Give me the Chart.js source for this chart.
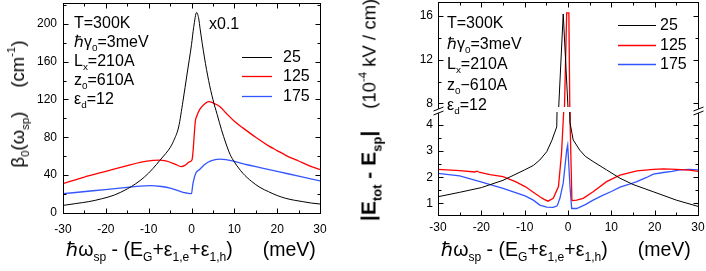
<!DOCTYPE html>
<html lang="en">
<head>
<meta charset="UTF-8">
<title>beta0 and |Etot - Esp|</title>
<script src="https://cdnjs.cloudflare.com/ajax/libs/Chart.js/4.4.1/chart.umd.min.js"></script>
<style>
  html, body { margin: 0; padding: 0; background: #fff; }
  #wrap { position: relative; width: 706px; height: 271px; overflow: hidden;
          font-family: 'Liberation Sans', Arial, sans-serif; color: #000; }
  canvas { position: absolute; top: 0; }
  .t { position: absolute; white-space: nowrap; font-size: 16px; line-height: 19px; }
  .ttl { position: absolute; white-space: nowrap; font-size: 19.5px; line-height: 20px; }
  .rot { transform: translate(-50%, -50%) rotate(-90deg); font-size: 18.5px; }
  .hc { transform: translateX(-50%); }
  sub { font-size: 0.62em; vertical-align: -0.45em; line-height: 0; }
  sup { font-size: 0.62em; vertical-align: 0.75em; line-height: 0; }
</style>
</head>
<body>
<div id="wrap">
  <canvas id="beta-chart" width="353" height="271" style="left:0"></canvas>
  <canvas id="field-chart" width="353" height="271" style="left:353px"></canvas>

  <div class="t" style="left:74px;top:13px">T=300K<br>ℏγ<sub>0</sub>=3meV<br>L<sub>x</sub>=210A<br>z<sub>0</sub>=610A<br>ε<sub>d</sub>=12</div>
  <div class="t" style="left:209px;top:14px">x0.1</div>
  <div class="ttl rot" style="left:18px;top:104px">β<sub>0</sub>(ω<sub>sp</sub>)<span style="margin-left:24px">(cm<sup>-1</sup>)</span></div>
  <div class="ttl hc" style="left:191px;top:239px">ℏω<sub>sp</sub> - (E<sub>G</sub>+ε<sub>1,e</sub>+ε<sub>1,h</sub>)<span style="margin-left:30px">(meV)</span></div>

  <div class="t" style="left:447px;top:13px;line-height:20.5px">T=300K<br>ℏγ<sub>0</sub>=3meV<br>L<sub>x</sub>=210A<br>z<sub>0</sub>−610A<br>ε<sub>d</sub>=12</div>
  <div class="ttl rot" style="left:369px;top:110px"><b style="font-size:21px">|E<sub>tot</sub> - E<sub>sp</sub>|</b><span style="margin-left:22px">(10<sup>-4</sup> kV / cm)</span></div>
  <div class="ttl hc" style="left:566px;top:239px">ℏω<sub>sp</sub> - (E<sub>G</sub>+ε<sub>1,e</sub>+ε<sub>1,h</sub>)<span style="margin-left:30px">(meV)</span></div>
</div>

<script>
    const xTicks = [-30, -20, -10, 0, 10, 20, 30];
    const betaTicks = [0, 40, 80, 120, 160, 200];
    const fieldHighTicks = [8, 10, 12, 14, 16];
    const fieldLowTicks = [1, 2, 3, 4];
    const seriesNames = ['25', '125', '175'];
    const seriesColors = ['#000000', '#ff0000', '#3355ff'];

    // left panel: beta0 (cm^-1), black curve already multiplied by 0.1
    const beta25x = [-30, -27, -24, -21, -18, -15, -13, -11, -9, -7.4, -6, -5, -4, -3, -2, -1, 0, 0.5, 1.2, 1.7, 2, 3, 4, 5, 6, 7, 8, 9, 10, 12, 14, 16, 18, 20, 22, 24, 26, 28, 30];
    const beta25y = [8, 10, 12, 15, 19, 25.5, 31, 38, 47, 55.6, 63, 69, 78, 91, 118, 148, 178, 196, 212, 205, 195, 165, 140, 120, 104, 88, 74, 62, 54, 42, 33.5, 27, 22.5, 18.5, 15.5, 13.5, 12, 10.5, 9.5];
    const beta125x = [-30, -25, -20, -15, -12, -9, -7.4, -6, -4, -2.3, -1.5, -0.5, 0.1, 0.3, 0.9, 1.2, 2, 3, 4, 5, 6.6, 8, 10, 12, 15, 18, 20, 22, 25, 28, 30];
    const beta125y = [31, 38, 44, 50, 53.5, 55.7, 56, 55, 52, 49, 50.5, 54, 56, 62, 97, 102, 110, 115, 117.8, 116.5, 112.6, 106, 97, 90, 80, 71, 66, 61, 55, 49, 46];
    const beta175x = [-30, -23, -15, -12, -9.7, -7, -5, -2, -1, 0, 0.3, 1, 1.9, 3, 4.5, 6.5, 8, 10, 13, 16, 20, 25, 30];
    const beta175y = [20.4, 23.5, 27, 28.5, 29, 28, 26.4, 21.8, 21, 20.4, 30, 42, 46, 51, 55, 57, 56.5, 54.5, 51, 48, 44, 39, 34];

    // right panel: |Etot - Esp| (10^-4 kV/cm)
    const field25x = [-30, -25, -20, -15, -10, -8, -6.5, -4.9, -3.7, -2.6, -1.1, 0.45, 1.2, 2.7, 4, 5.8, 8.9, 12, 15, 19.7, 25, 30];
    const field25y = [1.25, 1.42, 1.6, 1.88, 2.28, 2.45, 2.66, 2.98, 3.42, 3.93, 16.2, 4.1, 3.43, 3.04, 2.8, 2.6, 2.28, 1.96, 1.72, 1.44, 1.12, 0.88];
    const field125x = [-30, -25, -21.5, -21, -20.3, -18, -15, -12, -9.9, -8, -6.5, -5.5, -4.6, -3.4, -2.2, -1.5, -1.0, -0.3, 0.2, 0.5, 0.9, 1.1, 2, 3.5, 5.8, 8.9, 12, 15.9, 19.7, 22, 25, 28, 30];
    const field125y = [2.3, 2.25, 2.2, 2.23, 2.18, 2.1, 2.02, 1.82, 1.64, 1.42, 1.25, 1.15, 1.08, 1.19, 1.64, 2.9, 4.5, 16.3, 16.3, 4.0, 1.12, 1.1, 1.12, 1.19, 1.44, 1.83, 2.08, 2.24, 2.3, 2.32, 2.3, 2.27, 2.22];
    const field175x = [-30, -25, -20.3, -15, -9.9, -8, -6.5, -4.9, -3.4, -2.5, -1.85, -1.1, -0.3, -0.07, 0.46, 0.85, 2, 4, 5.8, 8, 10, 12, 14, 15.9, 18, 19.7, 22, 24, 25.8, 28, 30];
    const field175y = [2.15, 2.05, 1.83, 1.57, 1.28, 1.12, 0.93, 0.85, 0.84, 0.9, 1.2, 1.78, 3.04, 3.23, 1.64, 0.8, 0.8, 0.95, 1.12, 1.3, 1.45, 1.62, 1.72, 1.83, 1.98, 2.12, 2.18, 2.22, 2.28, 2.3, 2.28];

    Chart.defaults.font.family = "'Liberation Sans', Arial, sans-serif";
    Chart.defaults.color = '#000';

    const pts = (xs, ys) => xs.map((x, i) => ({x: x, y: ys[i]}));

    function minorOf(majors, min, max) {
        const step = majors[1] - majors[0];
        const out = [];
        for (let v = majors[0] - step / 2; v < max - 1e-6; v += step) {
            if (v > min + 1e-6) out.push(v);
        }
        return out;
    }

    // frame, inward ticks, in-plot legend, axis break and clipping per y scale
    const paperPlugin = {
        id: 'paper',
        beforeDatasetDraw(chart, args, opts) {
            const ctx = chart.ctx, a = chart.chartArea;
            const ys = chart.scales[args.meta.yAxisID];
            let top = ys.top, bottom = ys.bottom;
            if (opts.gap && ys.id === 'yHigh') bottom -= opts.gap;
            ctx.save();
            ctx.beginPath();
            ctx.rect(a.left, top, a.right - a.left, bottom - top);
            ctx.clip();
        },
        afterDatasetDraw(chart) {
            chart.ctx.restore();
        },
        afterDraw(chart, args, opts) {
            const ctx = chart.ctx, a = chart.chartArea;
            ctx.save();
            ctx.strokeStyle = '#000';
            ctx.lineWidth = 1;
            const L = Math.round(a.left) + 0.5, R = Math.round(a.right) + 0.5;
            const T = Math.round(a.top) + 0.5, B = Math.round(a.bottom) + 0.5;
            ctx.strokeRect(L, T, R - L, B - T);

            Object.values(chart.scales).forEach(scale => {
                const majors = scale.ticks.map(t => t.value);
                const minors = minorOf(majors, scale.min, scale.max);
                ctx.beginPath();
                const mark = (v, len) => {
                    const p = Math.round(scale.getPixelForValue(v)) + 0.5;
                    if (scale.isHorizontal()) {
                        ctx.moveTo(p, B); ctx.lineTo(p, B - len);
                        ctx.moveTo(p, T); ctx.lineTo(p, T + len);
                    } else {
                        ctx.moveTo(L, p); ctx.lineTo(L + len, p);
                        ctx.moveTo(R, p); ctx.lineTo(R - len, p);
                    }
                };
                majors.forEach(v => mark(v, 5));
                minors.forEach(v => mark(v, 3));
                ctx.stroke();
            });

            if (chart.scales.yHigh) {
                const yb = Math.round(chart.scales.yHigh.bottom);
                [L, R].forEach(x0 => {
                    ctx.fillStyle = '#fff';
                    ctx.beginPath();
                    ctx.moveTo(x0 - 5, yb + 3); ctx.lineTo(x0 + 5, yb - 1);
                    ctx.lineTo(x0 + 5, yb - 5); ctx.lineTo(x0 - 5, yb - 1);
                    ctx.closePath(); ctx.fill();
                    ctx.beginPath();
                    ctx.moveTo(x0 - 5, yb + 3); ctx.lineTo(x0 + 5, yb - 1);
                    ctx.moveTo(x0 - 5, yb - 1); ctx.lineTo(x0 + 5, yb - 5);
                    ctx.stroke();
                });
            }

            const lg = opts.legend;
            ctx.font = "16px 'Liberation Sans', Arial, sans-serif";
            ctx.textBaseline = 'middle';
            ctx.textAlign = 'left';
            chart.data.datasets.filter(d => d.yAxisID !== 'yHigh').forEach((d, i) => {
                const y = Math.round(lg.y + i * lg.dy) + 0.5;
                ctx.strokeStyle = d.borderColor;
                ctx.lineWidth = d.borderWidth;
                ctx.beginPath();
                ctx.moveTo(lg.x, y); ctx.lineTo(lg.x + lg.len, y);
                ctx.stroke();
                ctx.fillStyle = '#000';
                ctx.fillText(d.label, lg.x + lg.len + lg.gap, y);
            });
            ctx.restore();
        }
    };

    function axis(ticks, extra) {
        return Object.assign({
            type: 'linear',
            grid: {display: false, drawTicks: false},
            border: {display: false},
            ticks: {color: '#000', font: {size: 12}, padding: 6},
            afterBuildTicks: s => { s.ticks = ticks.map(v => ({value: v})); }
        }, extra);
    }

    function line(name, i, data, yAxisID, smooth) {
        return {
            label: name,
            data: data,
            yAxisID: yAxisID,
            borderColor: seriesColors[i],
            borderWidth: i === 0 ? 1 : 1.3,
            pointRadius: 0,
            fill: false,
            cubicInterpolationMode: smooth ? 'monotone' : 'default',
            tension: 0
        };
    }

    const common = {
        responsive: false,
        animation: false,
        events: [],
        plugins: {legend: {display: false}, tooltip: {enabled: false}}
    };

    new Chart('beta-chart', {
        type: 'line',
        data: {
            datasets: [
                line(seriesNames[0], 0, pts(beta25x, beta25y), 'y', true),
                line(seriesNames[1], 1, pts(beta125x, beta125y), 'y', true),
                line(seriesNames[2], 2, pts(beta175x, beta175y), 'y', true)
            ]
        },
        options: Object.assign({}, common, {
            layout: {padding: {left: 0, top: 3, right: 33, bottom: 38}},
            plugins: Object.assign({}, common.plugins, {
                paper: {legend: {x: 242, y: 57, dy: 19.4, len: 30, gap: 11}}
            }),
            scales: {
                x: axis(xTicks, {min: -30, max: 30, position: 'bottom',
                    ticks: {color: '#000', font: {size: 12}, padding: 9},
                    afterFit: s => { s.height = 20; s.paddingLeft = 0; s.paddingRight = 0; }}),
                y: axis(betaTicks, {min: 0, max: 222, position: 'left',
                    afterFit: s => { s.width = 63; s.paddingTop = 0; s.paddingBottom = 0; }})
            }
        }),
        plugins: [paperPlugin]
    });

    const fieldData = [pts(field25x, field25y), pts(field125x, field125y), pts(field175x, field175y)];
    const fieldSets = [];
    fieldData.forEach((d, i) => fieldSets.push(line(seriesNames[i], i, d, 'yLow', false)));
    fieldData.slice(0, 2).forEach((d, i) => fieldSets.push(line(seriesNames[i], i, d, 'yHigh', false)));

    new Chart('field-chart', {
        type: 'line',
        data: {datasets: fieldSets},
        options: Object.assign({}, common, {
            layout: {padding: {left: 0, top: 2, right: 8, bottom: 36}},
            plugins: Object.assign({}, common.plugins, {
                paper: {gap: 5, legend: {x: 265, y: 25, dy: 19.5, len: 38, gap: 4}}
            }),
            scales: {
                x: axis(xTicks, {min: -30, max: 30, position: 'bottom',
                    ticks: {color: '#000', font: {size: 12}, padding: 5},
                    afterFit: s => { s.height = 20; s.paddingLeft = 0; s.paddingRight = 0; }}),
                yLow: axis(fieldLowTicks, {min: 0.55, max: 4.5, position: 'left', stack: 'field', stackWeight: 103,
                    ticks: {color: '#000', font: {size: 12}, padding: 5},
                    afterFit: s => { s.width = 85; s.paddingTop = 0; s.paddingBottom = 0; }}),
                yHigh: axis(fieldHighTicks, {min: 7.2, max: 17.3, position: 'left', stack: 'field', stackWeight: 110,
                    ticks: {color: '#000', font: {size: 12}, padding: 5},
                    afterFit: s => { s.width = 85; s.paddingTop = 0; s.paddingBottom = 0; }})
            }
        }),
        plugins: [paperPlugin]
    });
</script>
</body>
</html>
